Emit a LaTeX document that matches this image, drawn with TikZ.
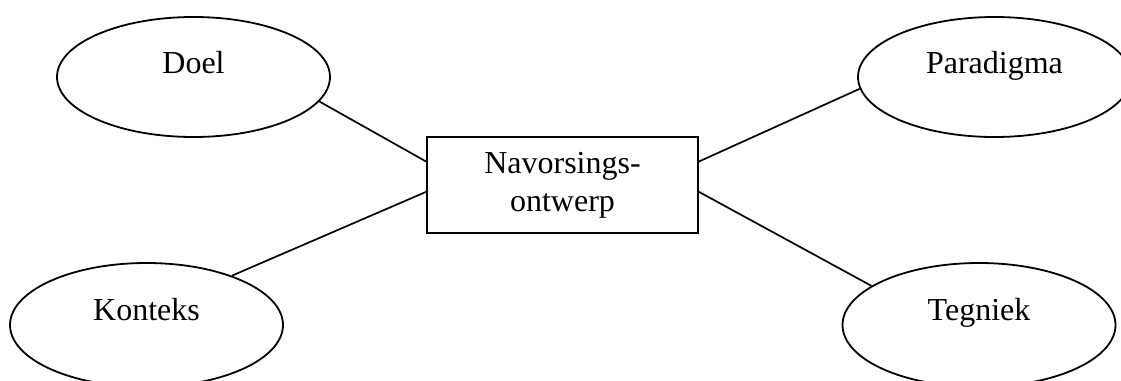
\documentclass[tikz,border=0pt]{standalone}
\usepackage{fontspec}
\setmainfont{Liberation Serif}
\usetikzlibrary{shapes.geometric,calc}
\begin{document}
\begin{tikzpicture}[x=1pt,y=-1pt,line width=1.8pt,
  oval/.style={draw,ellipse,minimum width=273pt,inner sep=0pt},
  lbl/.style={font=\fontsize{32}{38}\selectfont,anchor=base,inner sep=0pt},
  box/.style={draw,rectangle,minimum width=271pt,minimum height=96pt,inner sep=0pt,align=center,font=\fontsize{32}{38}\selectfont},
  conn/.style={draw,line width=1.7pt}]
\useasboundingbox (0,0) rectangle (1121,380);
\clip (0,0) rectangle (1121,380);
\node[oval,minimum height=120pt] (doel) at (193.5,77) {};
\node[oval,minimum height=120pt] (para) at (994.5,77) {};
\node[oval,minimum height=124pt] (kon) at (146.5,325) {};
\node[oval,minimum height=124pt] (teg) at (979,325) {};
\node[lbl] (tdoel) at ($(doel.center)+(0,-4)$) {Doel};
\node[lbl] (tpara) at ($(para.center)+(0,-4)$) {Paradigma};
\node[lbl] (tkon) at ($(kon.center)+(0,-5)$) {Konteks};
\node[lbl] (tteg) at ($(teg.center)+(0,-5)$) {Tegniek};
\node[box] (nav) at (562.5,185) {Navorsings-\\ontwerp};
\coordinate (nwa) at ($(nav.north west)!0.26!(nav.south west)$);
\coordinate (nwb) at ($(nav.north west)!0.57!(nav.south west)$);
\coordinate (nea) at ($(nav.north east)!0.26!(nav.south east)$);
\coordinate (neb) at ($(nav.north east)!0.57!(nav.south east)$);
\draw[conn] (doel.-11.8) -- (nwa);
\draw[conn] (kon.30.9) -- (nwb);
\draw[conn] (para.185.1) -- (nea);
\draw[conn] (teg.160.4) -- (neb);
\end{tikzpicture}
\end{document}
